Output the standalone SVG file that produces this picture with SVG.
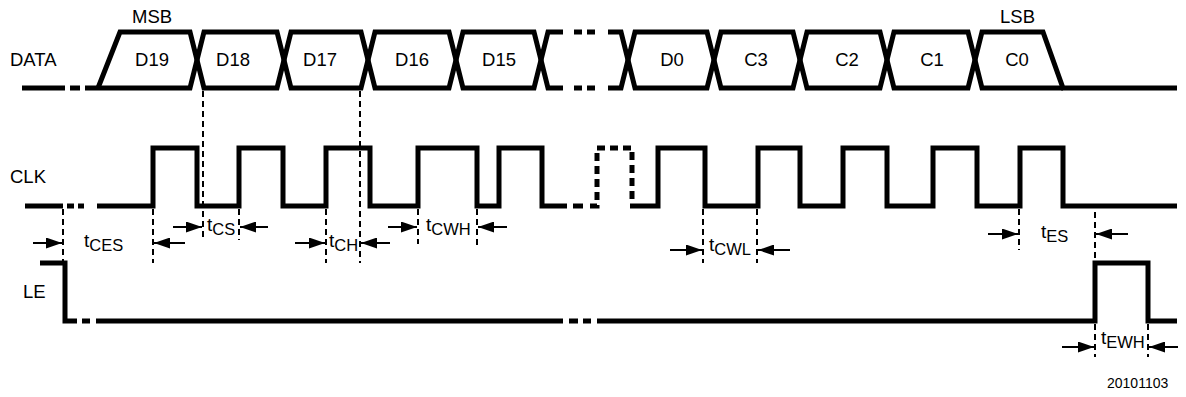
<svg xmlns="http://www.w3.org/2000/svg" width="1186" height="397" viewBox="0 0 1186 397">
<style>
.w{fill:none;stroke:#000;stroke-width:5;stroke-linejoin:miter;stroke-linecap:butt}
.wd{fill:none;stroke:#000;stroke-width:5;stroke-dasharray:8 5}
.g{fill:none;stroke:#000;stroke-width:2;stroke-dasharray:6 4}
.a{fill:none;stroke:#000;stroke-width:2;marker-end:url(#ah)}
text{font-family:"Liberation Sans",Arial,sans-serif;fill:#000}
.l{font-size:18.5px}
.c{font-size:18.5px;text-anchor:middle}
.t{font-size:19px}
.s{font-size:16.5px}
.f{font-size:14px}
</style>
<defs>
<marker id="ah" viewBox="0 0 16 11" refX="16" refY="5.5" markerWidth="16" markerHeight="11" markerUnits="userSpaceOnUse" orient="auto">
<path d="M0,0 L16,5.5 L0,11 Z" fill="#000"/>
</marker>
</defs>
<rect width="1186" height="397" fill="#fff"/>

<g id="data">
<text class="l" x="10" y="66">DATA</text>
<text class="l" x="132" y="23">MSB</text>
<text class="l" x="1000" y="23">LSB</text>
<path class="w" d="M22,88 H65 M70,88 H80 M85,88 H98"/>
<path class="w" d="M98,88 L120,32 H190 L204,88 H277 L291,32 H361 L375,88 H449 L463,32 H534 L548,88 H563"/>
<path class="w" d="M98,88 H190 L204,32 H277 L291,88 H361 L375,32 H449 L463,88 H534 L548,32 H563"/>
<path class="w" d="M574,32 H582 M587,32 H595 M574,88 H582 M587,88 H595"/>
<path class="w" d="M608,88 H621 L635,32 H707 L721,88 H793 L807,32 H880 L894,88 H968 L982,32 H1043 L1063,88 H1177"/>
<path class="w" d="M608,32 H621 L635,88 H707 L721,32 H793 L807,88 H880 L894,32 H968 L982,88 H1063"/>
<text class="c" x="152" y="66">D19</text>
<text class="c" x="233" y="66">D18</text>
<text class="c" x="320" y="66">D17</text>
<text class="c" x="412" y="66">D16</text>
<text class="c" x="499" y="66">D15</text>
<text class="c" x="672" y="66">D0</text>
<text class="c" x="756" y="66">C3</text>
<text class="c" x="847" y="66">C2</text>
<text class="c" x="932" y="66">C1</text>
<text class="c" x="1017" y="66">C0</text>
</g>

<g id="clk">
<text class="l" x="10" y="183">CLK</text>
<path class="w" d="M25,206 H63 M67,206 H74 M78,206 H84"/>
<path class="w" d="M97,206 H153 V148 H197 V206 H239 V148 H283 V206 H326 V148 H370 V206 H418 V148 H477 V206 H499 V148 H542 V206 H567"/>
<path class="w" d="M573,206 H583"/>
<path class="wd" d="M590,206 H597 V148 H632 V204"/>
<path class="w" d="M630,206 H658 V148 H705 V206 H758 V148 H800 V206 H843 V148 H887 V206 H933 V148 H977 V206 H1020 V148 H1063 V206 H1177"/>
</g>

<g id="le">
<text class="l" x="23" y="298">LE</text>
<path class="w" d="M40,263 H65 V321 H77 M82,321 H90 M96,321 H563 M569,321 H578 M583,321 H591 M597,321 H1095 V263 H1148 V321 H1177"/>
</g>

<g id="connectors">
<path class="g" d="M63,209 V265 M153,209 V263 M203,91 V238 M239,209 V240 M326,209 V263 M360,91 V263 M418,209 V244 M477,209 V245 M703,209 V263 M757,209 V263 M1019,209 V250 M1095,212 V262 M1095,324 V357 M1148,324 V357"/>
<line class="a" x1="33" y1="243" x2="62" y2="243"/>
<line class="a" x1="185" y1="243" x2="154" y2="243"/>
<line class="a" x1="173" y1="227" x2="202" y2="227"/>
<line class="a" x1="268" y1="227" x2="240" y2="227"/>
<line class="a" x1="295" y1="243" x2="325" y2="243"/>
<line class="a" x1="390" y1="243" x2="361" y2="243"/>
<line class="a" x1="388" y1="227" x2="417" y2="227"/>
<line class="a" x1="507" y1="227" x2="478" y2="227"/>
<line class="a" x1="670" y1="250" x2="702" y2="250"/>
<line class="a" x1="790" y1="250" x2="758" y2="250"/>
<line class="a" x1="988" y1="234" x2="1018" y2="234"/>
<line class="a" x1="1128" y1="234" x2="1096" y2="234"/>
<line class="a" x1="1062" y1="347" x2="1094" y2="347"/>
<line class="a" x1="1178" y1="347" x2="1149" y2="347"/>
</g>

<g id="labels">
<text class="t" x="84" y="247">t<tspan class="s" dy="4">CES</tspan></text>
<text class="t" x="207" y="231">t<tspan class="s" dy="4">CS</tspan></text>
<text class="t" x="329" y="247">t<tspan class="s" dy="4">CH</tspan></text>
<text class="t" x="426" y="231">t<tspan class="s" dy="4">CWH</tspan></text>
<text class="t" x="709" y="251">t<tspan class="s" dy="4">CWL</tspan></text>
<text class="t" x="1041" y="238">t<tspan class="s" dy="4">ES</tspan></text>
<text class="t" x="1101" y="344">t<tspan class="s" dy="4">EWH</tspan></text>
<text class="f" x="1107" y="388">20101103</text>
</g>
</svg>
